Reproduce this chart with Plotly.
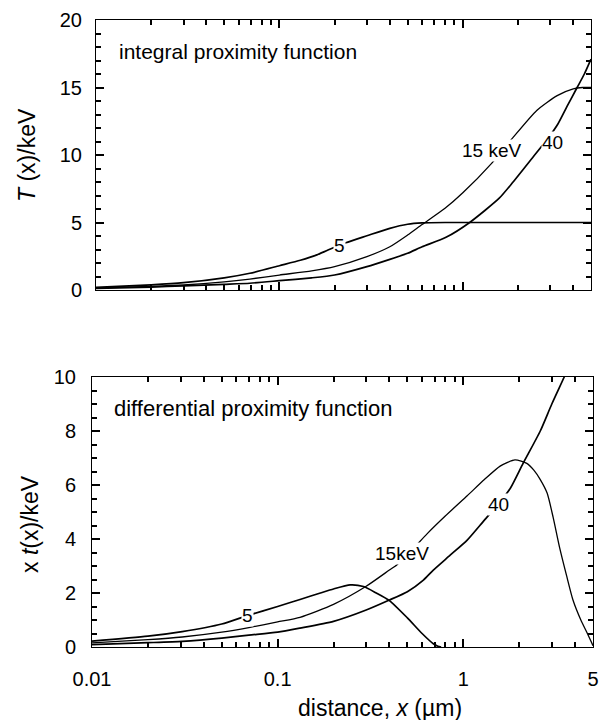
import math
import plotly.graph_objects as go

# ---------------- data ----------------
# Top panel: integral proximity function T(x) [keV]
x_top_5 = [0.01, 0.02, 0.03, 0.05, 0.069, 0.1, 0.13, 0.16, 0.184, 0.23, 0.3, 0.4, 0.5, 0.6, 0.8, 1.0, 2.0, 5.0]
T_5 = [0.2, 0.38, 0.54, 0.9, 1.24, 1.8, 2.2, 2.6, 2.96, 3.5, 4.02, 4.57, 4.87, 4.97, 5.0, 5.0, 5.0, 5.0]

x_top_15 = [0.01, 0.02, 0.03, 0.05, 0.069, 0.1, 0.15, 0.2, 0.3, 0.4, 0.5, 0.6, 0.8, 1.0, 1.44, 1.88, 2.53, 3.27, 4.0, 4.5, 5.0]
T_15 = [0.15, 0.27, 0.37, 0.6, 0.81, 1.11, 1.42, 1.73, 2.47, 3.2, 4.07, 4.85, 6.05, 7.2, 9.4, 11.3, 13.3, 14.4, 14.9, 15.0, 15.0]

x_top_40 = [0.01, 0.02, 0.03, 0.05, 0.069, 0.1, 0.15, 0.2, 0.3, 0.4, 0.5, 0.6, 0.81, 1.09, 1.58, 1.88, 2.4, 2.9, 3.3, 3.7, 4.2, 4.6, 5.0]
T_40 = [0.12, 0.22, 0.3, 0.42, 0.5, 0.69, 0.9, 1.11, 1.73, 2.27, 2.72, 3.2, 3.9, 5.0, 6.8, 8.0, 9.8, 11.2, 12.3, 13.6, 15.0, 16.0, 17.1]

# Bottom panel: differential proximity function x t(x) [keV]
x_bot_5 = [0.01, 0.02, 0.0306, 0.05, 0.07, 0.1, 0.132, 0.17, 0.2, 0.246, 0.29, 0.34, 0.4, 0.5, 0.6, 0.69, 0.73, 0.76]
xt_5 = [0.22, 0.4, 0.57, 0.85, 1.18, 1.5, 1.76, 2.0, 2.15, 2.3, 2.24, 2.0, 1.72, 1.08, 0.5, 0.12, 0.03, 0.0]

x_bot_15 = [0.01, 0.02, 0.0306, 0.05, 0.07, 0.1, 0.132, 0.2, 0.3, 0.4, 0.44, 0.53, 0.64, 0.8, 1.05, 1.3, 1.58, 1.9, 2.2, 2.4, 2.6, 2.83, 3.05, 3.3, 3.6, 3.9, 4.3, 4.65, 5.0]
xt_15 = [0.15, 0.27, 0.37, 0.55, 0.72, 0.93, 1.1, 1.58, 2.25, 2.85, 3.05, 3.6, 4.2, 4.85, 5.6, 6.2, 6.7, 6.93, 6.8, 6.55, 6.2, 5.7, 4.8, 3.7, 2.65, 1.74, 1.0, 0.52, 0.05]

x_bot_40 = [0.01, 0.02, 0.0306, 0.05, 0.07, 0.1, 0.132, 0.2, 0.3, 0.4, 0.5, 0.61, 0.69, 0.85, 1.05, 1.3, 1.55, 1.8, 2.1, 2.6, 3.0, 3.5, 4.0]
xt_40 = [0.09, 0.16, 0.21, 0.33, 0.44, 0.55, 0.7, 0.95, 1.37, 1.74, 2.05, 2.48, 2.85, 3.4, 3.96, 4.7, 5.3, 5.9, 6.8, 8.0, 9.0, 10.0, 10.9]

# curve labels: (text, x, y)
top_labels = [("5", 0.213, 3.33), ("15 keV", 1.44, 10.3), ("40", 3.1, 10.9)]
bot_labels = [("5", 0.0685, 1.18), ("15keV", 0.469, 3.48), ("40", 1.545, 5.26)]

x_major = [0.01, 0.1, 1, 5]
x_major_text = ["0.01", "0.1", "1", "5"]
x_minor = [0.02, 0.03, 0.04, 0.05, 0.06, 0.07, 0.08, 0.09,
           0.2, 0.3, 0.4, 0.5, 0.6, 0.7, 0.8, 0.9, 2, 3, 4]

# ---------------- figure ----------------
W, H = 599, 720
FONT = "Liberation Sans, Arial, Helvetica, sans-serif"

fig = go.Figure()

def add_curve(x, y, xa, ya, width):
    fig.add_trace(go.Scatter(x=x, y=y, xaxis=xa, yaxis=ya, mode="lines",
                             line=dict(color="black", width=width, shape="spline", smoothing=0.6),
                             showlegend=False, hoverinfo="skip"))

add_curve(x_top_5, T_5, "x", "y", 1.7)
add_curve(x_top_15, T_15, "x", "y", 1.3)
add_curve(x_top_40, T_40, "x", "y", 1.7)
add_curve(x_bot_5, xt_5, "x2", "y2", 1.7)
add_curve(x_bot_15, xt_15, "x2", "y2", 1.3)
add_curve(x_bot_40, xt_40, "x2", "y2", 1.7)

common_axis = dict(showline=True, linecolor="black", linewidth=1, mirror="allticks",
                   ticks="inside", ticklen=8, tickwidth=1.5, tickcolor="black",
                   showgrid=False, zeroline=False, automargin=False,
                   tickfont=dict(family=FONT, size=20, color="black"))
minor_style = dict(ticks="inside", ticklen=5, tickwidth=1.5, tickcolor="black", showgrid=False)

xr = [math.log10(0.01), math.log10(5.0)]

fig.update_layout(
    width=W, height=H,
    margin=dict(l=0, r=0, t=0, b=0),
    paper_bgcolor="white", plot_bgcolor="white",
    showlegend=False,
    xaxis=dict(type="log", range=xr, domain=[96 / W, 591 / W], anchor="y",
               tickvals=x_major[:3], showticklabels=False,
               minor=dict(tickvals=x_minor, **minor_style),
               **common_axis),
    yaxis=dict(range=[0, 20], domain=[1 - 290 / H, 1 - 20 / H], anchor="x",
               tick0=0, dtick=5, ticklabelstandoff=9,
               minor=dict(tick0=0, dtick=1, **minor_style),
               **common_axis),
    xaxis2=dict(type="log", range=xr, domain=[92 / W, 593 / W], anchor="y2",
                tickvals=x_major, ticktext=x_major_text, ticklabelstandoff=14,
                minor=dict(tickvals=x_minor, **minor_style),
                **common_axis),
    yaxis2=dict(range=[0, 10], domain=[1 - 647 / H, 1 - 377 / H], anchor="x2",
                tick0=0, dtick=2, ticklabelstandoff=11,
                minor=dict(tick0=0, dtick=0.5, **minor_style),
                **common_axis),
)

for text, xv, yv in top_labels:
    fig.add_annotation(x=math.log10(xv), y=yv, xref="x", yref="y", text=text, showarrow=False,
                       font=dict(family=FONT, size=19, color="black"), bgcolor="white", borderpad=0)
for text, xv, yv in bot_labels:
    fig.add_annotation(x=math.log10(xv), y=yv, xref="x2", yref="y2", text=text, showarrow=False,
                       font=dict(family=FONT, size=19, color="black"), bgcolor="white", borderpad=0)

# panel titles
fig.add_annotation(x=117 / W, y=1 - 52 / H, xref="paper", yref="paper", xanchor="left", yanchor="middle",
                   text="integral proximity function", showarrow=False,
                   font=dict(family=FONT, size=21, color="black"))
fig.add_annotation(x=112 / W, y=1 - 408 / H, xref="paper", yref="paper", xanchor="left", yanchor="middle",
                   text="differential proximity function", showarrow=False,
                   font=dict(family=FONT, size=22, color="black"))

# axis titles
fig.add_annotation(x=27 / W, y=1 - 155 / H, xref="paper", yref="paper", textangle=-90,
                   xanchor="center", yanchor="middle",
                   text="<i>T</i> (x)/keV", showarrow=False,
                   font=dict(family=FONT, size=23, color="black"))
fig.add_annotation(x=30 / W, y=1 - 524 / H, xref="paper", yref="paper", textangle=-90,
                   xanchor="center", yanchor="middle",
                   text="x <i>t</i>(x)/keV", showarrow=False,
                   font=dict(family=FONT, size=23, color="black"))
fig.add_annotation(x=380 / W, y=1 - 708 / H, xref="paper", yref="paper",
                   xanchor="center", yanchor="middle",
                   text="distance, <i>x</i> (µm)", showarrow=False,
                   font=dict(family=FONT, size=23, color="black"))

fig.write_html("out.html")
